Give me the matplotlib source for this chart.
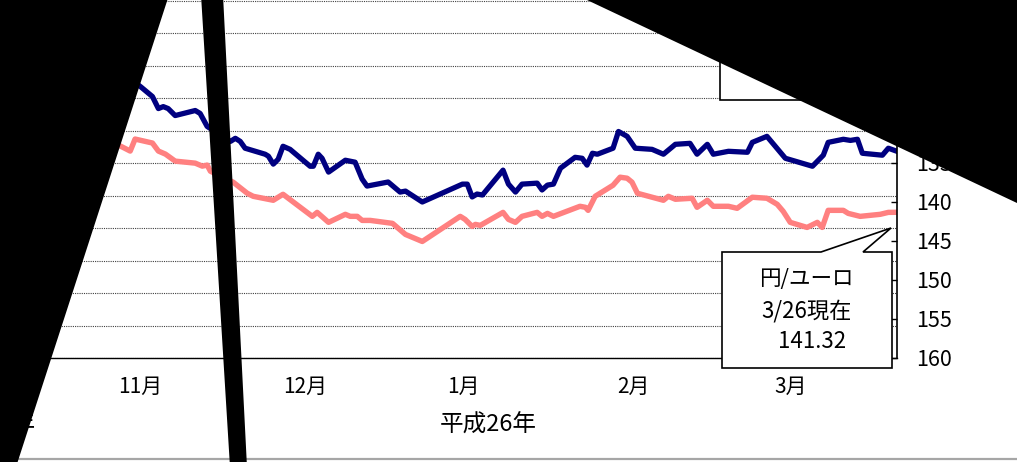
import matplotlib.pyplot as plt
from matplotlib.patches import Polygon
from matplotlib.lines import Line2D

plt.rcParams['font.family'] = ['Noto Sans CJK JP', 'DejaVu Sans']

# day number counted from 2013-11-01
usd_days = [3.0, 5.2, 7.4, 8.5, 9.4, 10.3, 11.6, 15.3, 16.2, 17.5, 21.8, 22.7, 23.6, 24.5,
            28.2, 28.8, 29.7, 30.6, 31.5, 32.8, 36.5, 37.1, 38.0, 38.7, 39.9, 43.0, 44.8,
            46.1, 47.0, 50.9, 53.1, 54.1, 57.2, 64.6, 65.5, 66.4, 67.3, 68.3, 72.1, 73.1,
            74.4, 75.6, 78.4, 79.3, 80.3, 81.4, 82.7, 85.4, 86.7, 87.6, 88.6, 89.5, 92.4,
            93.4, 95.0, 96.5, 99.6, 101.7, 103.9, 106.6, 107.9, 109.8, 110.9, 113.7, 117.2,
            118.1, 120.8, 124.2, 129.2, 131.2, 132.1, 134.9, 136.2, 137.5, 138.4, 142.1,
            143.2, 144.8]
usd_rate = [97.75, 98.30, 98.91, 99.65, 99.53, 99.65, 100.08, 99.77, 99.95, 100.75, 101.67,
            101.48, 101.67, 102.09, 102.46, 102.58, 103.07, 102.77, 101.97, 102.16, 103.20,
            103.20, 102.46, 102.71, 103.56, 102.83, 102.95, 103.99, 104.42, 104.17, 104.79,
            104.73, 105.40, 104.30, 104.30, 105.09, 104.91, 104.97, 103.44, 104.30, 104.79,
            104.30, 104.24, 104.66, 104.36, 104.30, 103.32, 102.65, 102.71, 103.13, 102.40,
            102.46, 102.09, 101.06, 101.36, 102.09, 102.16, 102.46, 101.85, 101.79, 102.46,
            101.85, 102.46, 102.28, 102.34, 101.73, 101.36, 102.71, 103.20, 102.52, 101.73,
            101.54, 101.61, 101.54, 102.40, 102.52, 102.09, 102.28]

eur_days = [0.0, 1.5, 3.3, 4.2, 7.4, 8.5, 9.8, 11.6, 15.3, 16.6, 17.5, 18.1, 22.3, 24.9,
            26.0, 29.7, 30.6, 31.5, 36.9, 37.8, 39.9, 43.0, 43.9, 45.2, 46.1, 47.6, 51.7,
            54.1, 57.2, 64.2, 65.1, 66.4, 67.0, 67.9, 72.1, 73.1, 74.4, 75.6, 78.4, 79.3,
            80.3, 81.4, 86.3, 87.3, 87.8, 89.1, 92.4, 93.7, 95.0, 95.9, 96.9, 101.7, 102.6,
            103.9, 107.0, 107.9, 109.8, 110.9, 113.7, 115.3, 118.1, 120.8, 122.7, 123.8,
            125.1, 128.2, 130.1, 131.0, 132.1, 134.9, 135.8, 138.0, 141.7, 143.2, 144.8]
eur_rate = [132.40, 132.83, 133.47, 131.93, 132.44, 133.47, 133.86, 134.76, 135.02, 135.40,
            135.27, 136.05, 137.46, 138.88, 139.27, 139.78, 139.39, 139.01, 141.84, 141.33,
            142.61, 141.58, 141.84, 141.84, 142.36, 142.36, 142.74, 144.16, 145.06, 141.84,
            142.23, 143.13, 142.87, 143.00, 141.33, 142.23, 142.61, 141.84, 141.33, 141.84,
            141.46, 141.84, 140.55, 140.68, 141.07, 139.27, 137.85, 136.82, 136.95, 137.46,
            138.88, 139.78, 139.27, 139.65, 139.52, 140.68, 139.78, 140.55, 140.55, 140.81,
            139.39, 139.52, 140.30, 141.20, 142.61, 143.26, 142.61, 143.26, 141.07, 141.07,
            141.46, 141.84, 141.58, 141.33, 141.32]

month_pos = [5.2, 35.6, 64.8, 96.1, 125.1]
month_labels = ['11月', '12月', '1月', '2月', '3月']

W, H = 1017, 462


def px(x, y):
    return (x / W, 1 - y / H)


def fig_poly(fig, pts, **kw):
    p = Polygon([px(x, y) for x, y in pts], closed=True, transform=fig.transFigure, **kw)
    fig.patches.append(p)
    return p


fig = plt.figure(figsize=(W / 100, H / 100), dpi=100)
ax = fig.add_axes([-60 / W, (H - 358) / H, 957 / W, 390 / H])
ax2 = ax.twinx()

ax.plot(usd_days, usd_rate, color='#000080', lw=3.8, solid_joinstyle='round')
ax2.plot(eur_days, eur_rate, color='#FF8080', lw=3.9, solid_joinstyle='round')

ax.set_xlim(-31.8, 144.8)
ax.set_ylim(115, 91)
ax.set_yticks(range(91, 116, 2))
ax.grid(axis='y', color='#404040', linestyle=(0, (1, 1)), lw=0.8)
ax2.set_ylim(160, 110)
# ticks above 120 fall outside the visible picture
ax2.set_yticks(range(120, 161, 5))

ax.set_xticks(month_pos, month_labels)
ax.tick_params(axis='x', length=0, pad=13, labelsize=15)
# left (円/ドル) axis labels sit outside the visible picture
ax.tick_params(axis='y', length=0, labelleft=False)
ax2.tick_params(axis='y', direction='in', length=4, width=1, pad=14, labelsize=15.5)

for a in (ax, ax2):
    a.spines['top'].set_visible(False)
    a.spines['left'].set_visible(False)
ax.spines['right'].set_visible(False)
ax2.spines['right'].set_linewidth(1.2)
ax2.spines['bottom'].set_visible(False)
ax.spines['bottom'].set_linewidth(1.0)

# year labels
fig.text(*px(488, 425), '平成26年', ha='center', va='center', fontsize=17)
fig.text(*px(36, 425), '平成25年', ha='right', va='center', fontsize=17)

# callout boxes
fig_poly(fig, [(720, -20), (892, -20), (892, 100), (720, 100)],
         facecolor='white', edgecolor='black', lw=1.2, zorder=2)
fig_poly(fig, [(722, 252), (821, 252), (891, 228), (863, 252), (892, 252), (892, 368), (722, 368)],
         facecolor='white', edgecolor='black', lw=1.2, zorder=2)
fig.text(*px(806, 279), '円/ユーロ', ha='center', va='center', fontsize=15.5, zorder=3)
fig.text(*px(806, 311), '3/26現在', ha='center', va='center', fontsize=16, zorder=3)
fig.text(*px(812, 341), '141.32', ha='center', va='center', fontsize=16, zorder=3)

# bottom border
fig.lines.append(Line2D([0, 1], [1 - 458.5 / H] * 2, color='#a6a6a6', lw=1.6,
                        transform=fig.transFigure))

# black occluding shapes
fig_poly(fig, [(-5, -5), (169, -5), (16, 467), (-5, 467)], facecolor='black', edgecolor='none', zorder=10)
fig_poly(fig, [(201, -5), (223, -5), (247, 467), (230, 467)], facecolor='black', edgecolor='none', zorder=10)
fig_poly(fig, [(587, 0), (1022, -5), (1022, 205.5), (1017, 203)], facecolor='black', edgecolor='none', zorder=10)

fig.savefig('out.png', dpi=100)
